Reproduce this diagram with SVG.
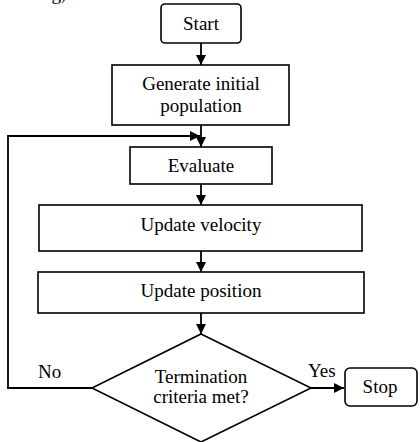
<svg xmlns="http://www.w3.org/2000/svg" width="420" height="442" viewBox="0 0 420 442">
  <style>
    .box { fill: #ffffff; stroke: #000000; stroke-width: 1.6; }
    .lbl { font-family: "Liberation Serif", "Times New Roman", serif; font-size: 19px; fill: #000000; text-anchor: middle; }
    .tag { font-family: "Liberation Serif", "Times New Roman", serif; font-size: 19px; fill: #000000; }
    .line { fill: none; stroke: #000000; stroke-width: 1.8; }
  </style>
  <defs>
    <marker id="arrow" viewBox="0 0 10 10" refX="10" refY="5" markerWidth="10" markerHeight="10" markerUnits="userSpaceOnUse" orient="auto">
      <path d="M0,0 L10,5 L0,10 Z" fill="#000000"/>
    </marker>
  </defs>

  <rect width="420" height="442" fill="#ffffff"/>

  <!-- caption fragment running off the top edge -->
  <text class="tag" x="42" y="0">ng,</text>

  <g id="connectors">
    <line class="line" x1="201" y1="43" x2="201" y2="65" marker-end="url(#arrow)"/>
    <line class="line" x1="201" y1="125" x2="201" y2="147" marker-end="url(#arrow)"/>
    <line class="line" x1="201" y1="184" x2="201" y2="205" marker-end="url(#arrow)"/>
    <line class="line" x1="201" y1="251" x2="201" y2="272" marker-end="url(#arrow)"/>
    <line class="line" x1="201" y1="313" x2="201" y2="334" marker-end="url(#arrow)"/>
    <!-- "No" loop back to Evaluate -->
    <polyline class="line" points="92,388 8,388 8,136 200,136" marker-end="url(#arrow)"/>
    <!-- "Yes" to Stop -->
    <line class="line" x1="311" y1="388" x2="344" y2="388" marker-end="url(#arrow)"/>
    <text class="tag" x="38" y="378">No</text>
    <text class="tag" x="308" y="377">Yes</text>
  </g>

  <g id="start">
    <rect class="box" x="161" y="4" width="80" height="39" rx="4"/>
    <text class="lbl" x="201" y="30">Start</text>
  </g>

  <g id="generate">
    <rect class="box" x="112" y="65" width="177" height="60"/>
    <text class="lbl" x="201" y="90">Generate initial</text>
    <text class="lbl" x="201" y="112">population</text>
  </g>

  <g id="evaluate">
    <rect class="box" x="130" y="147" width="142" height="37"/>
    <text class="lbl" x="201" y="172">Evaluate</text>
  </g>

  <g id="velocity">
    <rect class="box" x="39" y="205" width="323" height="46"/>
    <text class="lbl" x="201" y="231">Update velocity</text>
  </g>

  <g id="position">
    <rect class="box" x="38" y="272" width="326" height="41"/>
    <text class="lbl" x="201" y="297">Update position</text>
  </g>

  <g id="decision">
    <polygon class="box" points="201,334 311,388 201,442 92,388"/>
    <text class="lbl" x="201" y="383">Termination</text>
    <text class="lbl" x="201" y="403">criteria met?</text>
  </g>

  <g id="stop">
    <rect class="box" x="345" y="368" width="72" height="38" rx="5"/>
    <text class="lbl" x="380" y="393">Stop</text>
  </g>
</svg>
